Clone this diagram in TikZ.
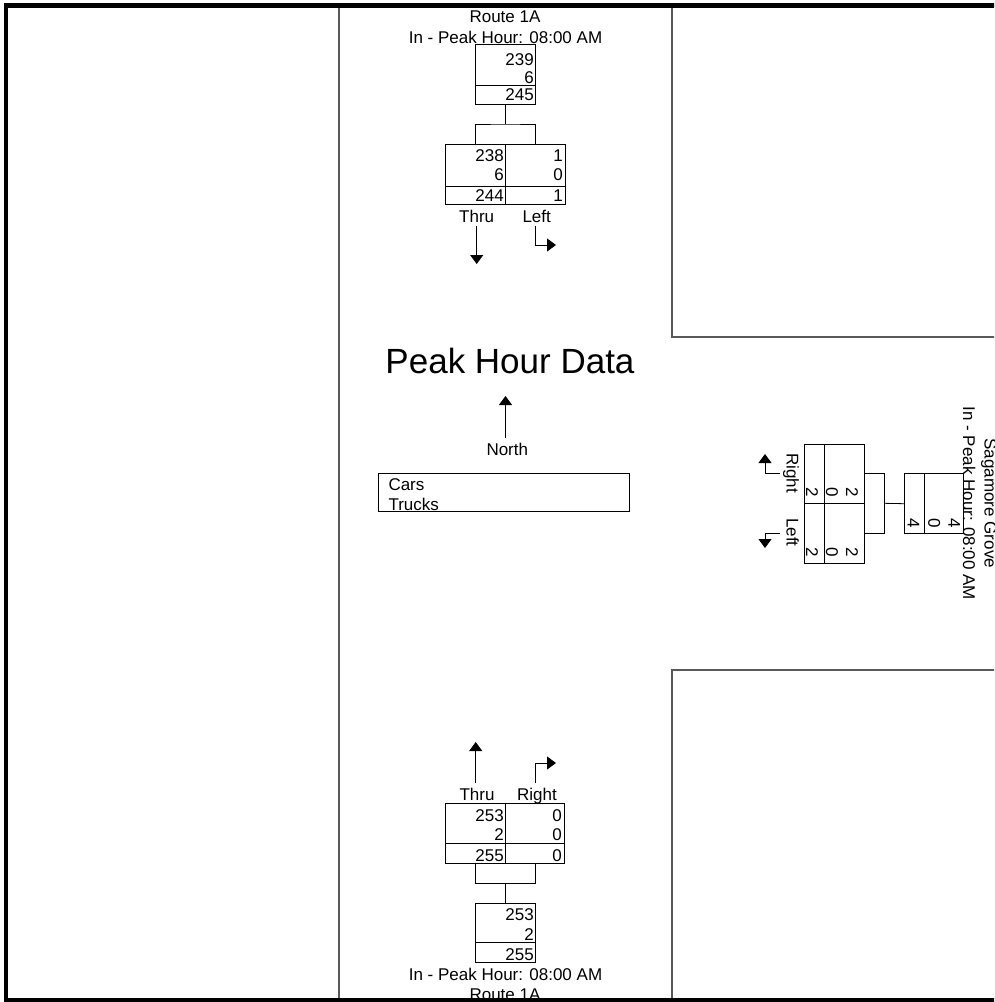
\documentclass[tikz,border=0pt]{standalone}
\usepackage{fontspec}
\setmainfont{Liberation Sans}
\usetikzlibrary{arrows.meta}
\newcommand{\hrtxt}{In - Peak Hour: 08:00 AM}

\begin{document}
\begin{tikzpicture}[x=1pt,y=-1pt,
  cellbox/.style={draw,line width=0.8pt,inner sep=0pt},
  cellline/.style={line width=0.8pt},
  txt/.style={inner sep=0pt,font=\fontsize{17}{20}\selectfont},
  num/.style={txt,anchor=base east},
  lbl/.style={txt,anchor=base},
  mv/.style={line width=0.8pt,-{Triangle[length=9pt,width=13pt]}},
  road/.style={line width=1.5pt,black!65}]
\useasboundingbox (0,0) rectangle (994,1002);
\clip (0,0) rectangle (994,1002);
\draw[road] (339.2,5.5) -- (339.2,1000);
\draw[road] (672,5.5) -- (672,337) -- (1000,337);
\draw[road] (1000,670) -- (672,670) -- (672,1000);

% north approach
\node (nTitle) [lbl] at (505,22.7) {Route 1A};
\node (nHour) [lbl] at (505.5,43.5) {\hrtxt};
\node (nIn) [cellbox,anchor=north west,minimum width=60pt,minimum height=60pt] at (475,44) {};
\draw[cellline] (475,85) -- (535,85);
\foreach \v/\yy [count=\i] in {239/65,6/83.3,245/100}
  \node (nIn\i) [num] at (534,\yy) {\v};
\node (nOut) [cellbox,anchor=north west,minimum width=120pt,minimum height=60pt] at (445,144) {};
\draw[cellline] (505,144) -- (505,204);
\draw[cellline] (445,186.7) -- (565,186.7);
\foreach \v/\w/\yy [count=\i] in {238/1/161.7,6/0/180,244/1/201.7}{
  \node (nThru\i) [num] at (504,\yy) {\v};
  \node (nLeft\i) [num] at (563,\yy) {\w};
}
\coordinate (nSplit) at (505.5,124);
\coordinate (nThruTop) at (475.5,144);
\coordinate (nLeftTop) at (535.5,144);
\draw[cellline] (505.5,104) -- (nSplit);
\draw[cellline] (nThruTop) |- (nSplit) -| (nLeftTop);
\node (nThruLbl) [lbl] at (476.7,222.7) {Thru};
\node (nLeftLbl) [lbl] at (536.7,222.7) {Left};
\coordinate (nThruEnd) at (476.7,264);
\coordinate (nLeftEnd) at (556,245);
\draw[mv] (476.7,226) -- (nThruEnd);
\draw[mv] (535.5,226) |- (nLeftEnd);

% legend
\node (title) [inner sep=0pt,anchor=base,font=\fontsize{35}{40}\selectfont] at (510,373.3) {Peak Hour Data};
\node (north) [lbl] at (507.3,455) {North};
\coordinate (northTip) at (505.5,396);
\draw[mv] (505.5,438) -- (northTip);
\node (lgd) [cellbox,anchor=north west,minimum width=251pt,minimum height=37.4pt] at (378,473.3) {};
\node (lgdCars) [txt,anchor=base west] at (388.3,490.7) {Cars};
\node (lgdTrucks) [txt,anchor=base west] at (388.3,510.7) {Trucks};

% east approach
\node (eTitle) [rotate=-90,lbl] at (984.5,503.3) {Sagamore Grove};
\node (eHour) [rotate=-90,lbl] at (963,503.3) {\hrtxt};
\node (eIn) [cellbox,anchor=north west,minimum width=58.4pt,minimum height=60pt] at (904.3,473.3) {};
\draw[cellline] (924.3,473.3) -- (924.3,533.3);
\foreach \v/\xx [count=\i] in {4/948.3,0/928.3,4/907.7}
  \node (eIn\i) [rotate=-90,num] at (\xx,528) {\v};
\node (eOut) [cellbox,anchor=north west,minimum width=60pt,minimum height=119pt] at (804,444.3) {};
\draw[cellline] (824.3,444.3) -- (824.3,563.3);
\draw[cellline] (804,503.3) -- (864,503.3);
\foreach \v/\xx [count=\i] in {2/846,0/826,2/806}{
  \node (eRight\i) [rotate=-90,num] at (\xx,497) {\v};
  \node (eLeft\i) [rotate=-90,num] at (\xx,557) {\v};
}
\coordinate (eSplit) at (884.3,503.3);
\coordinate (eRightTop) at (864,473.3);
\coordinate (eLeftTop) at (864,533.3);
\draw[cellline] (eIn.west) -- (eSplit);
\draw[cellline] (eRightTop) -| (eSplit) |- (eLeftTop);
\node (eRightLbl) [rotate=-90,lbl] at (786.7,473.3) {Right};
\node (eLeftLbl) [rotate=-90,lbl] at (786.7,532.5) {Left};
\coordinate (eRightEnd) at (765,454);
\coordinate (eLeftEnd) at (765,548);
\draw[mv] (780,473.3) -| (eRightEnd);
\draw[mv] (780,533.3) -| (eLeftEnd);

% south approach
\coordinate (sThruEnd) at (475.7,742);
\coordinate (sRightEnd) at (556,763);
\draw[mv] (475.7,783) -- (sThruEnd);
\draw[mv] (535.5,783) |- (sRightEnd);
\node (sThruLbl) [lbl] at (477,800) {Thru};
\node (sRightLbl) [lbl] at (537,800) {Right};
\node (sOut) [cellbox,anchor=north west,minimum width=119pt,minimum height=60pt] at (445,802.7) {};
\draw[cellline] (505,802.7) -- (505,862.7);
\draw[cellline] (445,843) -- (564,843);
\foreach \v/\w/\yy [count=\i] in {253/0/821.7,2/0/840.7,255/0/861}{
  \node (sThru\i) [num] at (504,\yy) {\v};
  \node (sRight\i) [num] at (562,\yy) {\w};
}
\coordinate (sSplit) at (505.5,883);
\coordinate (sThruBot) at (475.5,862.7);
\coordinate (sRightBot) at (535.5,862.7);
\node (sIn) [cellbox,anchor=north west,minimum width=60pt,minimum height=59pt] at (475,903) {};
\draw[cellline] (475,942.7) -- (535,942.7);
\foreach \v/\yy [count=\i] in {253/920,2/940,255/960.7}
  \node (sIn\i) [num] at (534,\yy) {\v};
\draw[cellline] (sThruBot) |- (sSplit) -| (sRightBot);
\draw[cellline] (sSplit) -- (505.5,903);
\node (sHour) [lbl] at (505.5,980.7) {\hrtxt};
\node (sTitle) [lbl] at (505,1000.5) {Route 1A};

% frame
\draw[line width=4.4pt] (1000,5.5) -- (6.1,5.5) -- (6.1,1000.5) -- (1000,1000.5);
\end{tikzpicture}
\end{document}
